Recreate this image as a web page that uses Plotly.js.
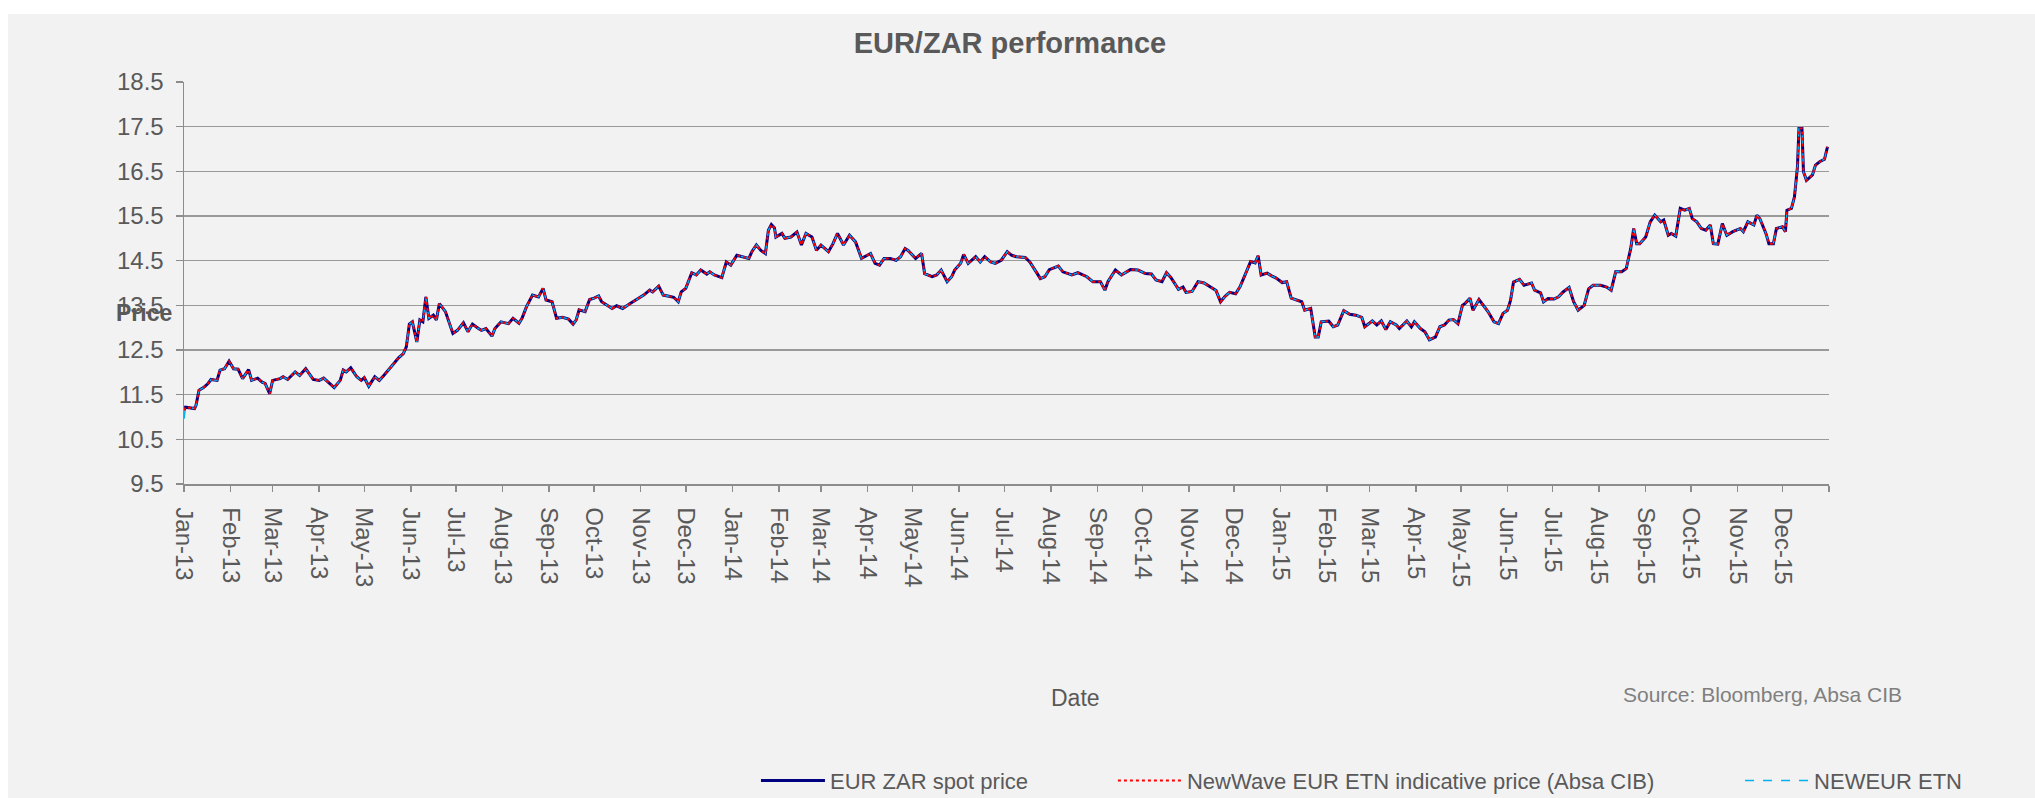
<!DOCTYPE html>
<html>
<head>
<meta charset="utf-8">
<script src="https://cdn.plot.ly/plotly-3.0.1.min.js"></script>
<style>
  html, body { margin: 0; padding: 0; background: #ffffff; width: 2035px; height: 798px; overflow: hidden; }
  #chart { position: absolute; left: 8px; top: 14px; width: 2027px; height: 784px; }
</style>
</head>
<body>
<div id="chart"></div>
<script>
// ---- Data ----
const dates = [
'2013-01-01','2013-01-02','2013-01-08','2013-01-09','2013-01-11','2013-01-14','2013-01-17','2013-01-19','2013-01-23','2013-01-25','2013-01-28','2013-01-31',
'2013-02-03','2013-02-06','2013-02-09','2013-02-13','2013-02-15','2013-02-19','2013-02-22','2013-02-24','2013-02-27',
'2013-03-01','2013-03-06','2013-03-08','2013-03-11','2013-03-16','2013-03-19','2013-03-23','2013-03-28',
'2013-04-01','2013-04-04','2013-04-08','2013-04-11','2013-04-15','2013-04-17','2013-04-19','2013-04-22','2013-04-26','2013-04-29',
'2013-05-01','2013-05-04','2013-05-08','2013-05-11','2013-05-14','2013-05-17','2013-05-20','2013-05-24','2013-05-27','2013-05-29','2013-05-31',
'2013-06-02','2013-06-05','2013-06-07','2013-06-09','2013-06-11','2013-06-13','2013-06-16','2013-06-18','2013-06-20','2013-06-24','2013-06-26','2013-06-29',
'2013-07-02','2013-07-06','2013-07-09','2013-07-12','2013-07-16','2013-07-18','2013-07-21','2013-07-25','2013-07-27','2013-07-31',
'2013-08-05','2013-08-08','2013-08-12','2013-08-14','2013-08-17','2013-08-21','2013-08-25','2013-08-28','2013-08-30',
'2013-09-03','2013-09-06','2013-09-10','2013-09-14','2013-09-17','2013-09-19','2013-09-21','2013-09-25','2013-09-28',
'2013-10-01','2013-10-04','2013-10-06','2013-10-09','2013-10-13','2013-10-16','2013-10-20','2013-10-25','2013-10-29',
'2013-11-03','2013-11-07','2013-11-09','2013-11-13','2013-11-16','2013-11-19','2013-11-23','2013-11-26','2013-11-28',
'2013-12-01','2013-12-05','2013-12-08','2013-12-11','2013-12-15','2013-12-17','2013-12-20','2013-12-25','2013-12-28','2013-12-31',
'2014-01-04','2014-01-08','2014-01-12','2014-01-14','2014-01-17','2014-01-20','2014-01-23','2014-01-25','2014-01-27','2014-01-29','2014-01-30',
'2014-02-03','2014-02-05','2014-02-09','2014-02-13','2014-02-16','2014-02-19','2014-02-23','2014-02-26',
'2014-03-01','2014-03-06','2014-03-09','2014-03-12','2014-03-16','2014-03-20','2014-03-24','2014-03-28',
'2014-04-03','2014-04-06','2014-04-09','2014-04-12','2014-04-16','2014-04-20','2014-04-23','2014-04-26','2014-04-28',
'2014-05-03','2014-05-07','2014-05-09','2014-05-14','2014-05-17','2014-05-20','2014-05-24','2014-05-27','2014-05-29',
'2014-06-02','2014-06-04','2014-06-07','2014-06-12','2014-06-15','2014-06-18','2014-06-22','2014-06-25','2014-06-29',
'2014-07-03','2014-07-06','2014-07-09','2014-07-15','2014-07-18','2014-07-23','2014-07-25','2014-07-28','2014-07-31',
'2014-08-06','2014-08-09','2014-08-15','2014-08-19','2014-08-25','2014-08-29',
'2014-09-03','2014-09-06','2014-09-08','2014-09-13','2014-09-17','2014-09-23','2014-09-28',
'2014-10-03','2014-10-07','2014-10-10','2014-10-14','2014-10-17','2014-10-20','2014-10-25','2014-10-28','2014-10-30',
'2014-11-03','2014-11-07','2014-11-11','2014-11-15','2014-11-19','2014-11-22','2014-11-25','2014-11-28',
'2014-12-02','2014-12-05','2014-12-08','2014-12-12','2014-12-15','2014-12-17','2014-12-19','2014-12-23','2014-12-26','2014-12-29',
'2015-01-02','2015-01-05','2015-01-08','2015-01-12','2015-01-15','2015-01-17','2015-01-21','2015-01-24','2015-01-26','2015-01-28',
'2015-02-02','2015-02-05','2015-02-08','2015-02-12','2015-02-16','2015-02-20','2015-02-24','2015-02-26',
'2015-03-03','2015-03-06','2015-03-09','2015-03-12','2015-03-15','2015-03-19','2015-03-21','2015-03-26','2015-03-29','2015-03-31',
'2015-04-04','2015-04-07','2015-04-10','2015-04-14','2015-04-17','2015-04-20','2015-04-23','2015-04-26','2015-04-29',
'2015-05-02','2015-05-04','2015-05-07','2015-05-09','2015-05-13','2015-05-16','2015-05-19','2015-05-23','2015-05-26','2015-05-29',
'2015-06-01','2015-06-03','2015-06-05','2015-06-09','2015-06-12','2015-06-17','2015-06-19','2015-06-23','2015-06-25','2015-06-28',
'2015-07-02','2015-07-05','2015-07-08','2015-07-12','2015-07-15','2015-07-18','2015-07-22','2015-07-25','2015-07-28',
'2015-08-02','2015-08-06','2015-08-09','2015-08-12','2015-08-16','2015-08-19','2015-08-22','2015-08-24','2015-08-26','2015-08-28',
'2015-09-01','2015-09-04','2015-09-07','2015-09-11','2015-09-13','2015-09-16','2015-09-18','2015-09-21','2015-09-24','2015-09-27','2015-09-30',
'2015-10-02','2015-10-05','2015-10-08','2015-10-11','2015-10-14','2015-10-16','2015-10-19','2015-10-22','2015-10-25','2015-10-29',
'2015-11-03','2015-11-05','2015-11-08','2015-11-12','2015-11-14','2015-11-16','2015-11-20','2015-11-22','2015-11-25','2015-11-27',
'2015-12-01','2015-12-03','2015-12-04','2015-12-07','2015-12-09','2015-12-11','2015-12-12','2015-12-14','2015-12-15','2015-12-17','2015-12-21','2015-12-23','2015-12-26','2015-12-29','2015-12-31'
];

const spotPrice = [
11.15,11.22,11.19,11.26,11.60,11.66,11.75,11.84,11.82,12.05,12.08,12.25,
12.08,12.07,11.86,12.06,11.82,11.87,11.78,11.75,11.52,
11.82,11.86,11.90,11.84,12.01,11.93,12.08,11.84,
11.82,11.87,11.75,11.66,11.82,12.05,12.01,12.10,11.90,11.82,
11.88,11.69,11.90,11.82,11.93,12.05,12.16,12.33,12.42,12.57,13.08,
13.13,12.68,13.17,13.13,13.69,13.21,13.28,13.17,13.54,13.36,13.17,12.87,
12.94,13.11,12.91,13.08,12.98,12.94,12.98,12.81,12.98,13.13,
13.09,13.21,13.10,13.21,13.47,13.73,13.69,13.88,13.62,
13.58,13.21,13.23,13.19,13.08,13.17,13.40,13.36,13.63,
13.66,13.71,13.58,13.51,13.43,13.49,13.43,13.54,13.62,
13.73,13.84,13.80,13.93,13.73,13.71,13.68,13.58,13.80,
13.88,14.23,14.18,14.29,14.20,14.25,14.18,14.12,14.47,14.40,
14.62,14.59,14.55,14.70,14.85,14.73,14.66,15.18,15.31,15.24,15.03,
15.11,15.00,15.03,15.14,14.85,15.11,15.03,14.73,
14.85,14.70,14.88,15.11,14.85,15.07,14.92,14.55,
14.66,14.44,14.40,14.55,14.55,14.51,14.59,14.77,14.73,
14.55,14.66,14.21,14.14,14.18,14.29,14.03,14.14,14.29,
14.44,14.64,14.44,14.59,14.47,14.59,14.47,14.44,14.51,
14.70,14.62,14.59,14.57,14.47,14.21,14.10,14.14,14.30,
14.38,14.25,14.18,14.23,14.14,14.03,
14.03,13.84,14.03,14.29,14.18,14.30,14.29,
14.21,14.20,14.07,14.03,14.23,14.12,13.86,13.91,13.79,
13.81,14.03,14.00,13.91,13.83,13.58,13.70,13.79,
13.76,13.92,14.15,14.48,14.45,14.61,14.18,14.22,14.16,14.11,
14.01,14.03,13.66,13.61,13.58,13.39,13.43,12.79,12.79,13.13,
13.15,13.02,13.06,13.38,13.30,13.28,13.23,13.02,
13.15,13.06,13.15,12.96,13.13,13.06,12.98,13.15,13.02,13.13,
12.98,12.91,12.73,12.79,13.02,13.06,13.17,13.18,13.09,
13.50,13.55,13.66,13.39,13.63,13.50,13.36,13.13,13.09,13.32,
13.39,13.61,14.02,14.08,13.95,14.00,13.84,13.78,13.58,13.65,
13.64,13.69,13.80,13.90,13.58,13.39,13.50,13.87,13.95,
13.95,13.91,13.84,14.25,14.25,14.32,14.77,15.22,14.88,14.88,
15.03,15.37,15.52,15.37,15.41,15.07,15.11,15.05,15.67,15.63,15.67,
15.44,15.37,15.22,15.18,15.30,14.88,14.87,15.33,15.07,15.15,
15.22,15.15,15.37,15.30,15.52,15.44,15.11,14.88,14.88,15.22,
15.26,15.15,15.63,15.67,15.93,16.60,17.46,17.46,16.49,16.30,16.42,16.64,16.72,16.77,17.05
];

// The ETN indicative price (red dotted) sits on the spot line throughout the picture.
const etnPrice = spotPrice.slice();
// NEWEUR ETN (cyan dashed) matches too, except the first print which starts lower (~10.96).
const newEurPrice = [10.96].concat(spotPrice.slice(1));

const seriesNames = ['EUR ZAR spot price', 'NewWave EUR ETN indicative price (Absa CIB)', 'NEWEUR ETN'];

const monthTicks = [
'2013-01-01','2013-02-01','2013-03-01','2013-04-01','2013-05-01','2013-06-01','2013-07-01','2013-08-01','2013-09-01','2013-10-01','2013-11-01','2013-12-01',
'2014-01-01','2014-02-01','2014-03-01','2014-04-01','2014-05-01','2014-06-01','2014-07-01','2014-08-01','2014-09-01','2014-10-01','2014-11-01','2014-12-01',
'2015-01-01','2015-02-01','2015-03-01','2015-04-01','2015-05-01','2015-06-01','2015-07-01','2015-08-01','2015-09-01','2015-10-01','2015-11-01','2015-12-01',
'2016-01-01'
];
const monthLabels = [
'Jan-13','Feb-13','Mar-13','Apr-13','May-13','Jun-13','Jul-13','Aug-13','Sep-13','Oct-13','Nov-13','Dec-13',
'Jan-14','Feb-14','Mar-14','Apr-14','May-14','Jun-14','Jul-14','Aug-14','Sep-14','Oct-14','Nov-14','Dec-14',
'Jan-15','Feb-15','Mar-15','Apr-15','May-15','Jun-15','Jul-15','Aug-15','Sep-15','Oct-15','Nov-15','Dec-15',
''
];

// ---- Chart ----
const FONT = 'Liberation Sans, Arial, Helvetica, sans-serif';
const TXT = '#595959';

const traces = [
  {
    x: dates, y: spotPrice, type: 'scatter', mode: 'lines', name: seriesNames[0],
    line: { color: '#000080', width: 3 }, legend: 'legend', hoverinfo: 'x+y'
  },
  {
    x: dates, y: newEurPrice, type: 'scatter', mode: 'lines', name: seriesNames[2],
    line: { color: '#00b0f0', width: 1.5, dash: 'dash' }, legend: 'legend3', hoverinfo: 'x+y'
  },
  {
    x: dates, y: etnPrice, type: 'scatter', mode: 'lines', name: seriesNames[1],
    line: { color: '#ff0000', width: 2, dash: 'dot' }, legend: 'legend2', hoverinfo: 'x+y'
  }
];

const legendBase = {
  orientation: 'h', xref: 'container', yref: 'container',
  xanchor: 'left', yanchor: 'middle', y: 0.0221,
  itemwidth: 64,
  bgcolor: 'rgba(0,0,0,0)', borderwidth: 0,
  font: { family: FONT, size: 22, color: TXT }
};

const layout = {
  width: 2027, height: 784,
  margin: { l: 176, r: 206, t: 68, b: 314, autoexpand: false },
  paper_bgcolor: '#f2f2f2',
  plot_bgcolor: '#f2f2f2',
  title: {
    text: '<b>EUR/ZAR performance</b>',
    xref: 'container', yref: 'container',
    x: 0.4943, y: 0.963, xanchor: 'center', yanchor: 'middle',
    font: { family: FONT, size: 29, color: TXT }
  },
  xaxis: {
    type: 'date', automargin: false,
    range: ['2013-01-01', '2016-01-01'],
    tickmode: 'array', tickvals: monthTicks, ticktext: monthLabels,
    tickangle: 90,
    ticks: 'outside', ticklen: 6, tickwidth: 1.5, tickcolor: '#8c8c8c',
    ticklabelstandoff: 11,
    showline: true, linecolor: '#8c8c8c', linewidth: 1.5,
    showgrid: false, zeroline: false,
    tickfont: { family: FONT, size: 24, color: TXT }
  },
  yaxis: {
    automargin: false,
    range: [9.5, 18.5],
    tickmode: 'linear', tick0: 9.5, dtick: 1, tickformat: '.1f',
    ticks: 'outside', ticklen: 7, tickwidth: 1.5, tickcolor: '#8c8c8c',
    ticklabelstandoff: 7,
    showline: true, linecolor: '#8c8c8c', linewidth: 1.5,
    showgrid: true, gridcolor: '#9a9a9a', gridwidth: 1.5,
    zeroline: false,
    tickfont: { family: FONT, size: 24, color: TXT }
  },
  showlegend: true,
  legend: Object.assign({}, legendBase, { x: 0.369 }),
  legend2: Object.assign({}, legendBase, { x: 0.5451 }),
  legend3: Object.assign({}, legendBase, { x: 0.8545 }),
  annotations: [
    {
      text: '<b>Price</b>', xref: 'paper', yref: 'paper', x: -0.0243, y: 0.4246,
      xanchor: 'center', yanchor: 'middle', showarrow: false,
      font: { family: FONT, size: 23, color: TXT }
    },
    {
      text: 'Date', xref: 'paper', yref: 'paper', x: 0.5422, y: -0.533,
      xanchor: 'center', yanchor: 'middle', showarrow: false,
      font: { family: FONT, size: 23, color: TXT }
    },
    {
      text: 'Source: Bloomberg, Absa CIB', xref: 'paper', yref: 'paper', x: 0.9594, y: -0.523,
      xanchor: 'center', yanchor: 'middle', showarrow: false,
      font: { family: FONT, size: 21, color: '#7f7f7f' }
    }
  ]
};

Plotly.newPlot('chart', traces, layout, { displayModeBar: false, staticPlot: true });
</script>
</body>
</html>
